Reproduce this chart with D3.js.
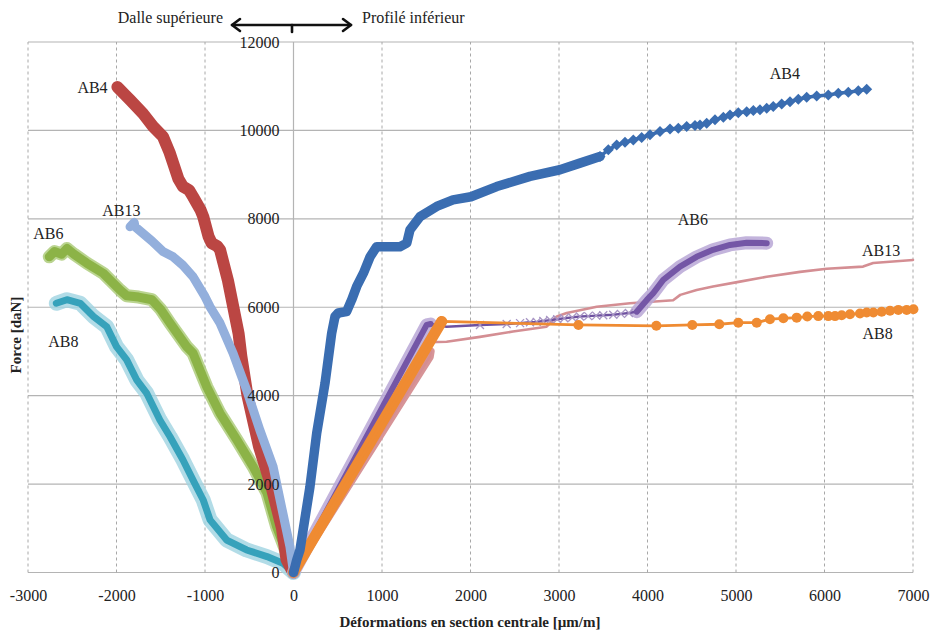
<!DOCTYPE html>
<html>
<head>
<meta charset="utf-8">
<script src="https://cdn.jsdelivr.net/npm/d3@7"></script>
<style>
  body { margin: 0; background: #fff; }
  svg { display: block; }
  svg text { font-family: "Liberation Serif", "Times New Roman", serif !important; }
</style>
</head>
<body>
<svg id="chart" width="933" height="634"></svg>
<script>
// Force (daN) against strain at mid-span (µm/m). Negative strains: top slab, positive: bottom steel profile.
const X_TICKS = [-3000, -2000, -1000, 0, 1000, 2000, 3000, 4000, 5000, 6000, 7000];
const Y_TICKS = [0, 2000, 4000, 6000, 8000, 10000, 12000];

// Top slab (compression side)
const ab4Slab = [[0,0],[-30,100],[-80,300],[-130,1000],[-250,1950],[-390,2850],[-520,4000],[-590,4900],[-620,5400],[-680,6000],[-740,6600],[-830,7300],[-860,7380],[-925,7450],[-960,7600],[-1020,8050],[-1050,8200],[-1135,8500],[-1180,8650],[-1250,8730],[-1300,8900],[-1360,9260],[-1400,9500],[-1475,9860],[-1587,10090],[-1700,10380],[-1847,10690],[-1900,10800],[-1990,10980]];
const ab13Slab = [[0,0],[-40,580],[-120,1340],[-230,2390],[-380,3220],[-530,4130],[-683,4960],[-830,5640],[-943,6010],[-1000,6240],[-1135,6690],[-1250,6950],[-1360,7140],[-1475,7260],[-1600,7500],[-1790,7820],[-1800,7920],[-1847,7820]];
const ab6Slab = [[0,0],[-77,440],[-190,1030],[-300,1800],[-455,2390],[-640,3000],[-830,3600],[-980,4200],[-1135,4960],[-1207,5110],[-1395,5640],[-1500,5950],[-1600,6170],[-1750,6230],[-1885,6260],[-1960,6390],[-2150,6770],[-2337,7000],[-2480,7200],[-2560,7330],[-2620,7200],[-2700,7260],[-2760,7140]];
const ab8Slab = [[0,0],[-120,210],[-300,360],[-530,510],[-755,735],[-943,1190],[-1020,1640],[-1135,2090],[-1250,2550],[-1395,3070],[-1510,3450],[-1660,4060],[-1770,4350],[-1885,4810],[-2000,5110],[-2110,5560],[-2260,5790],[-2410,6090],[-2560,6170],[-2680,6090]];

// Bottom steel profile (tension side)
const ab4Profile = [[0,0],[36,280],[73,510],[186,1940],[262,3150],[356,4280],[431,5410],[469,5790],[505,5870],[600,5900],[658,6170],[714,6470],[790,6770],[865,7140],[940,7370],[1070,7370],[1203,7370],[1280,7450],[1316,7750],[1430,8050],[1618,8280],[1802,8430],[2005,8500],[2296,8730],[2672,8960],[3011,9110],[3237,9260],[3463,9410],[3557,9560],[3652,9670],[3746,9730],[3840,9785],[3934,9840],[4028,9900],[4141,9975],[4254,10030],[4348,10050],[4443,10090],[4537,10110],[4593,10125],[4669,10160],[4763,10240],[4857,10300],[4932,10350],[5026,10400],[5121,10425],[5196,10450],[5271,10465],[5347,10500],[5421,10540],[5516,10600],[5610,10650],[5704,10705],[5799,10750],[5912,10780],[6043,10800],[6156,10840],[6269,10865],[6382,10895],[6477,10930]];
const ab13Profile = [[0,0],[1540,4880],[1550,5000],[1505,5120],[1530,5210],[1730,5220],[2107,5330],[2480,5450],[2860,5560],[2935,5710],[2975,5790],[3087,5870],[3426,6010],[3802,6090],[4290,6160],[4370,6280],[4555,6390],[4740,6470],[5045,6580],[5347,6690],[5723,6800],[6025,6870],[6436,6920],[6550,7000],[7000,7070]];
const ab6Profile = [[0,0],[1505,5600],[1550,5620],[1730,5560],[2107,5600],[2409,5620],[2560,5640],[2672,5660],[2748,5670],[2823,5690],[2900,5710],[2980,5730],[3060,5750],[3150,5770],[3237,5790],[3330,5800],[3420,5810],[3500,5820],[3613,5830],[3700,5850],[3790,5870],[3878,5900],[3990,6160],[4065,6320],[4178,6620],[4367,6920],[4555,7140],[4740,7300],[4932,7410],[5120,7460],[5347,7450]];
const ab8Profile = [[0,0],[1675,5680],[3220,5600],[4100,5580],[4506,5600],[4811,5615],[5026,5650],[5234,5650],[5384,5730],[5535,5750],[5686,5765],[5806,5790],[5930,5800],[6043,5800],[6119,5800],[6194,5820],[6288,5840],[6401,5860],[6477,5880],[6552,5880],[6646,5900],[6740,5920],[6834,5940],[6929,5940],[7005,5955]];

const specimenNames = ["AB4", "AB6", "AB13", "AB8"];

const svg = d3.select("#chart");
const x = d3.scaleLinear().domain([-3000, 7000]).range([28, 913]);
const y = d3.scaleLinear().domain([0, 12000]).range([572.5, 42]);

// Grid
const grid = svg.append("g");
grid.selectAll("line.h").data(Y_TICKS).join("line")
  .attr("x1", x(-3000)).attr("x2", x(7000))
  .attr("y1", d => y(d)).attr("y2", d => y(d))
  .attr("stroke", "#b4b4b4").attr("stroke-width", 1.2);
grid.selectAll("line.v").data(X_TICKS).join("line")
  .attr("x1", d => x(d)).attr("x2", d => x(d))
  .attr("y1", y(0)).attr("y2", y(12000))
  .attr("stroke", d => d === 0 ? "#b4b4b4" : "#a8a8a8")
  .attr("stroke-width", d => d === 0 ? 1.2 : 1)
  .attr("stroke-dasharray", d => d === 0 ? null : "3,3");

const plot = svg.append("g");
const lineGen = (pred) => d3.line().defined(pred || (() => true)).x(d => x(d[0])).y(d => y(d[1]));

function band(data, color, width, pred, opacity) {
  plot.append("path").datum(data)
    .attr("d", lineGen(pred))
    .attr("fill", "none").attr("stroke", color).attr("stroke-width", width)
    .attr("stroke-linejoin", "round").attr("stroke-linecap", "round")
    .attr("opacity", opacity == null ? 1 : opacity);
}

// Slab branches
band(ab8Slab, "#9fd3e1", 15, null, 0.8);
band(ab8Slab, "#36a2bb", 7);
band(ab6Slab, "#a9c974", 13, null, 0.8);
band(ab6Slab, "#8cb347", 9);
band(ab4Slab, "#bb4643", 12);
band(ab13Slab, "#93afdc", 9);

// Profile branches
band(ab13Profile, "#d79497", 8, d => d[0] <= 1560 && d[1] <= 5000);
band(ab13Profile, "#d48e93", 2.6);

band(ab6Profile, "#b9a7d6", 13, d => d[0] <= 1560 || d[0] >= 3878, 0.85);
band(ab6Profile, "#6e51a0", 2.4);
band(ab6Profile, "#7456a6", 6, d => d[0] <= 1560 || d[0] >= 3878);
plot.append("g").selectAll("path")
  .data(ab6Profile.filter(d => d[0] > 2000 && d[0] < 3878))
  .join("path")
  .attr("transform", d => `translate(${x(d[0])},${y(d[1])})`)
  .attr("d", "M-4,-4L4,4M-4,4L4,-4")
  .attr("stroke", "#a895c4").attr("stroke-width", 1.3).attr("fill", "none");

band(ab8Profile, "#ef8b32", 11, d => d[0] <= 1675);
band(ab8Profile, "#ef8b32", 2.8);
plot.append("g").selectAll("circle")
  .data(ab8Profile.filter(d => d[0] >= 1675))
  .join("circle")
  .attr("cx", d => x(d[0])).attr("cy", d => y(d[1])).attr("r", 5)
  .attr("fill", "#ef8b32");

band(ab4Profile, "#3a6db1", 9.5, d => d[0] <= 3463);
band(ab4Profile, "#3a6db1", 3.5);
plot.append("g").selectAll("path")
  .data(ab4Profile.filter(d => d[0] >= 3463))
  .join("path")
  .attr("transform", d => `translate(${x(d[0])},${y(d[1])})`)
  .attr("d", "M0,-5.5L5.5,0L0,5.5L-5.5,0Z")
  .attr("fill", "#3a6db1");

// Axes (labels only; lines come from the grid)
const xAxis = svg.append("g").attr("transform", `translate(0,${y(0)})`)
  .call(d3.axisBottom(x).tickValues(X_TICKS).tickSize(0).tickPadding(17).tickFormat(d3.format("d")));
const yAxis = svg.append("g").attr("transform", `translate(${x(0)},0)`)
  .call(d3.axisLeft(y).tickValues(Y_TICKS).tickSize(0).tickPadding(14).tickFormat(d3.format("d")));
[xAxis, yAxis].forEach(a => {
  a.select(".domain").remove();
  a.attr("font-family", null).attr("font-size", null);
  a.selectAll("text").style("font-size", "16px").attr("fill", "#222");
});
xAxis.selectAll("text").text(d => d < 0 ? "-" + Math.abs(d) : d);

// Axis titles
svg.append("text").attr("x", 470).attr("y", 627).attr("text-anchor", "middle")
  .style("font-size", "15px").attr("font-weight", "bold").attr("fill", "#222")
  .text("Déformations en section centrale [µm/m]");
svg.append("text").attr("transform", "translate(21,335) rotate(-90)").attr("text-anchor", "middle")
  .style("font-size", "15px").attr("font-weight", "bold").attr("fill", "#222")
  .text("Force [daN]");

// Side annotation with double arrow
const ax0 = x(0) - 1.5, ay = 25;
const ann = svg.append("g").attr("stroke", "#111").attr("stroke-width", 2.6).attr("fill", "none")
  .attr("stroke-linecap", "round").attr("stroke-linejoin", "round");
ann.append("line").attr("x1", ax0 - 60).attr("x2", ax0 + 59).attr("y1", ay).attr("y2", ay);
ann.append("path").attr("d", `M${ax0 - 52},${ay - 6}L${ax0 - 60},${ay}L${ax0 - 52},${ay + 6}`);
ann.append("path").attr("d", `M${ax0 + 51},${ay - 6}L${ax0 + 59},${ay}L${ax0 + 51},${ay + 6}`);
ann.append("line").attr("x1", ax0).attr("x2", ax0).attr("y1", ay).attr("y2", ay + 7);
svg.append("text").attr("x", ax0 - 69).attr("y", ay - 2).attr("text-anchor", "end")
  .style("font-size", "16px").attr("fill", "#222").text("Dalle supérieure");
svg.append("text").attr("x", ax0 + 70).attr("y", ay - 2).attr("text-anchor", "start")
  .style("font-size", "16px").attr("fill", "#222").text("Profilé inférieur");

// Specimen labels next to the curve ends
const labels = [
  { t: specimenNames[0], d: ab4Slab[ab4Slab.length - 1], dx: -40, dy: 0 },
  { t: specimenNames[2], d: ab13Slab[ab13Slab.length - 2], dx: -32, dy: -12 },
  { t: specimenNames[1], d: ab6Slab[ab6Slab.length - 1], dx: -16, dy: -23 },
  { t: specimenNames[3], d: ab8Slab[ab8Slab.length - 1], dx: -8, dy: 38 },
  { t: specimenNames[0], d: ab4Profile[ab4Profile.length - 1], dx: -97, dy: -16 },
  { t: specimenNames[1], d: ab6Profile[ab6Profile.length - 1], dx: -89, dy: -24 },
  { t: specimenNames[2], d: ab13Profile[ab13Profile.length - 1], dx: -51, dy: -10 },
  { t: specimenNames[3], d: ab8Profile[ab8Profile.length - 1], dx: -51, dy: 24 }
];
svg.append("g").selectAll("text").data(labels).join("text")
  .attr("x", l => x(l.d[0]) + l.dx).attr("y", l => y(l.d[1]) + l.dy)
  .attr("dy", "0.35em").style("font-size", "16px").attr("fill", "#222")
  .text(l => l.t);
</script>
</body>
</html>
